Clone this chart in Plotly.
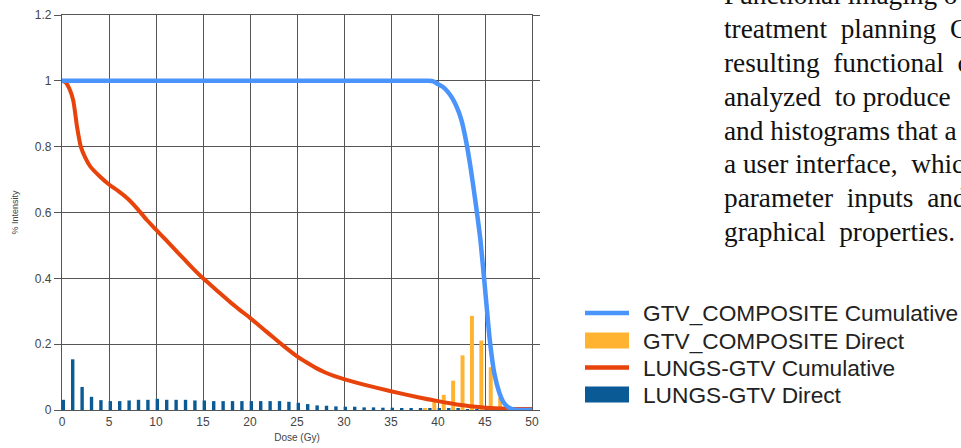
import plotly.graph_objects as go

# ---- data -------------------------------------------------------------
series_names = [
    "GTV_COMPOSITE Cumulative",
    "GTV_COMPOSITE Direct",
    "LUNGS-GTV Cumulative",
    "LUNGS-GTV Direct",
]
series_colors = ["#4a94fb", "#ffb330", "#e8430a", "#0a5a96"]

# cumulative dose-volume curves
gtv_cum_dose = [0, 10, 20, 30, 38, 39, 39.5, 40, 40.5, 41, 41.5, 42, 42.5, 43,
                43.5, 44, 44.5, 45, 45.5, 46, 46.5, 47, 47.5, 48, 49, 50]
gtv_cum = [1.0, 1.0, 1.0, 1.0, 1.0, 1.0, 0.998, 0.99, 0.982, 0.968, 0.948, 0.92,
           0.88, 0.815, 0.73, 0.63, 0.52, 0.37, 0.215, 0.11, 0.055, 0.022, 0.008,
           0.002, 0.0, 0.0]

lungs_cum_dose = [0, 0.4, 0.8, 1.2, 1.6, 2.0, 2.5, 3, 4, 5, 6, 7, 8, 9, 10, 11,
                  12, 13, 14, 15, 16, 17, 18, 19, 20, 21, 22, 23, 24, 25, 26, 27,
                  28, 29, 30, 32, 35, 38, 40, 42, 44, 46, 48, 50]
lungs_cum = [1.0, 0.995, 0.975, 0.94, 0.86, 0.80, 0.765, 0.74, 0.71, 0.685,
             0.665, 0.642, 0.612, 0.578, 0.548, 0.518, 0.488, 0.458, 0.428, 0.40,
             0.375, 0.35, 0.325, 0.302, 0.28, 0.256, 0.232, 0.208, 0.185, 0.163,
             0.145, 0.128, 0.114, 0.103, 0.094, 0.078, 0.057, 0.038, 0.027, 0.017,
             0.010, 0.005, 0.003, 0.003]

# direct (differential) histograms, one bin per Gy
gtv_direct_dose = [38, 39, 40, 41, 42, 43, 44, 45, 46, 47]
gtv_direct = [0.006, 0.032, 0.046, 0.089, 0.166, 0.286, 0.211, 0.13, 0.038, 0.005]

lungs_direct_dose = list(range(0, 49))
lungs_direct = [0.031, 0.154, 0.070, 0.040, 0.030, 0.027, 0.027, 0.029, 0.031,
                0.031, 0.034, 0.031, 0.031, 0.031, 0.029, 0.029, 0.027, 0.027,
                0.027, 0.027, 0.027, 0.027, 0.027, 0.027, 0.025, 0.022, 0.018,
                0.014, 0.013, 0.011, 0.010, 0.010, 0.008, 0.008, 0.007, 0.007,
                0.006, 0.006, 0.005, 0.005, 0.004, 0.004, 0.004, 0.003, 0.003,
                0.003, 0.002, 0.002, 0.001]

x_ticks = [0, 5, 10, 15, 20, 25, 30, 35, 40, 45, 50]
y_ticks = [0, 0.2, 0.4, 0.6, 0.8, 1.0, 1.2]

side_text = [
    "Functional imaging o",
    "treatment\u00a0 planning\u00a0 C",
    "resulting\u00a0 functional\u00a0 c",
    "analyzed\u00a0 to produce",
    "and histograms that a",
    "a user interface,\u00a0 whic",
    "parameter\u00a0 inputs\u00a0 and",
    "graphical\u00a0 properties.",
]

# ---- figure -----------------------------------------------------------
W, H = 961, 448
M_L, M_R, M_T, M_B = 62, 429, 15, 38
plot_w, plot_h = W - M_L - M_R, H - M_T - M_B


def px_to_paper(xp, yp):
    """Convert a pixel location on the page into paper coordinates."""
    return (xp - M_L) / plot_w, (H - M_B - yp) / plot_h


fig = go.Figure()

fig.add_trace(go.Bar(
    x=lungs_direct_dose, y=lungs_direct, name=series_names[3],
    marker=dict(color=series_colors[3], line=dict(width=0)),
    width=0.36, offset=-0.04, showlegend=False,
))
fig.add_trace(go.Bar(
    x=gtv_direct_dose, y=gtv_direct, name=series_names[1],
    marker=dict(color=series_colors[1], line=dict(width=0)),
    width=0.42, offset=0.4, showlegend=False,
))
fig.add_trace(go.Scatter(
    x=lungs_cum_dose, y=lungs_cum, name=series_names[2], mode="lines",
    line=dict(color=series_colors[2], width=4, shape="spline", smoothing=0.6),
    showlegend=False,
))
fig.add_trace(go.Scatter(
    x=gtv_cum_dose, y=gtv_cum, name=series_names[0], mode="lines",
    line=dict(color=series_colors[0], width=4.5, shape="spline", smoothing=0.5),
    showlegend=False,
))

grid_col = "#555555"
tick_font = dict(family="Liberation Sans, Arial, sans-serif", size=12, color="#444")

fig.update_layout(
    width=W, height=H,
    margin=dict(l=M_L, r=M_R, t=M_T, b=M_B, autoexpand=False),
    paper_bgcolor="white", plot_bgcolor="white",
    barmode="overlay",
    font=dict(family="Liberation Sans, Arial, sans-serif", color="#333"),
    xaxis=dict(
        range=[0, 50], tickvals=x_ticks, showgrid=True, gridcolor=grid_col,
        gridwidth=1.3, zeroline=False, showline=True, linecolor=grid_col,
        linewidth=1.3, mirror=True, ticks="", tickfont=tick_font,
        automargin=False,
        title=dict(text="Dose (Gy)", font=dict(size=10, color="#444"), standoff=6),
    ),
    yaxis=dict(
        range=[0, 1.2], tickvals=y_ticks, showgrid=True, gridcolor=grid_col,
        gridwidth=1.3, zeroline=False, showline=True, linecolor=grid_col,
        linewidth=1.3, mirror="ticks", ticks="outside", ticklen=7,
        tickcolor=grid_col, tickwidth=1.3, tickfont=tick_font,
        automargin=False,
        title=dict(text="% Intensity", font=dict(size=9, color="#444"), standoff=14),
    ),
)

# legend drawn as swatches + labels to the right of the plot
legend_rows_px = [313, 340.5, 367.5, 394.5]
sw_x0, _ = px_to_paper(585, 0)
sw_x1, _ = px_to_paper(629, 0)
txt_x, _ = px_to_paper(641, 0)
half_h = 8 / plot_h
for name, col, ypx in zip(series_names, series_colors, legend_rows_px):
    _, yc = px_to_paper(0, ypx)
    if "Cumulative" in name:
        fig.add_shape(type="line", xref="paper", yref="paper",
                      x0=sw_x0, x1=sw_x1, y0=yc, y1=yc,
                      line=dict(color=col, width=4.5))
    else:
        fig.add_shape(type="rect", xref="paper", yref="paper",
                      x0=sw_x0, x1=sw_x1, y0=yc - half_h, y1=yc + half_h,
                      fillcolor=col, line=dict(width=0))
    fig.add_annotation(text=name, xref="paper", yref="paper", x=txt_x, y=yc,
                       xanchor="left", yanchor="middle", showarrow=False,
                       font=dict(family="Liberation Sans, Arial, sans-serif",
                                 size=22.7, color="#222"))

# paragraph text beside the chart, one line at a time
para_x, _ = px_to_paper(722, 0)
for i, line in enumerate(side_text):
    _, ly = px_to_paper(0, -4.8 + 33.83 * i)
    fig.add_annotation(
        text=line, xref="paper", yref="paper", x=para_x, y=ly,
        xanchor="left", yanchor="middle", align="left", showarrow=False,
        font=dict(family="Liberation Serif, Times New Roman, serif", size=27.3,
                  color="#111"),
    )

fig.write_html("out.html")
